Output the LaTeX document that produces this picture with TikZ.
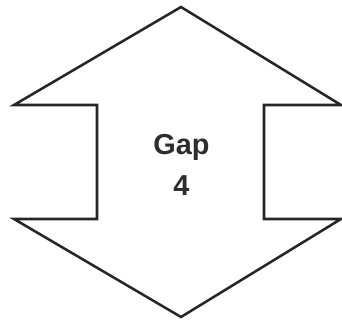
\documentclass[tikz,border=0pt]{standalone}
\usepackage{fontspec}
\setmainfont{Liberation Sans}
\usepackage{tikz}
\definecolor{gaptext}{RGB}{45,45,45}

\begin{document}
\begin{tikzpicture}[x=0.025cm,y=-0.025cm]
    \useasboundingbox (0,0) rectangle (342,320);

    \coordinate (top) at (181,7);
    \coordinate (bot) at (181,317);

    \coordinate (lt) at (14,105);
    \coordinate (rt) at (341,105);
    \coordinate (lb) at (14,219);
    \coordinate (rb) at (341,219);

    \coordinate (slt) at (97,105);
    \coordinate (srt) at (264,105);
    \coordinate (slb) at (97,219);
    \coordinate (srb) at (264,219);

    \draw[line width=1.8pt,line join=miter,fill=white,draw=black!85]
        (top) -- (rt) -- (srt) -- (srb) -- (rb) -- (bot) -- (lb) -- (slb) -- (slt) -- (lt) --cycle;

    \node[align=center,text=gaptext,font=\bfseries\fontsize{20.5}{29}\selectfont] (gap) at (181.5,165) {Gap\\4};
\end{tikzpicture}
\end{document}
